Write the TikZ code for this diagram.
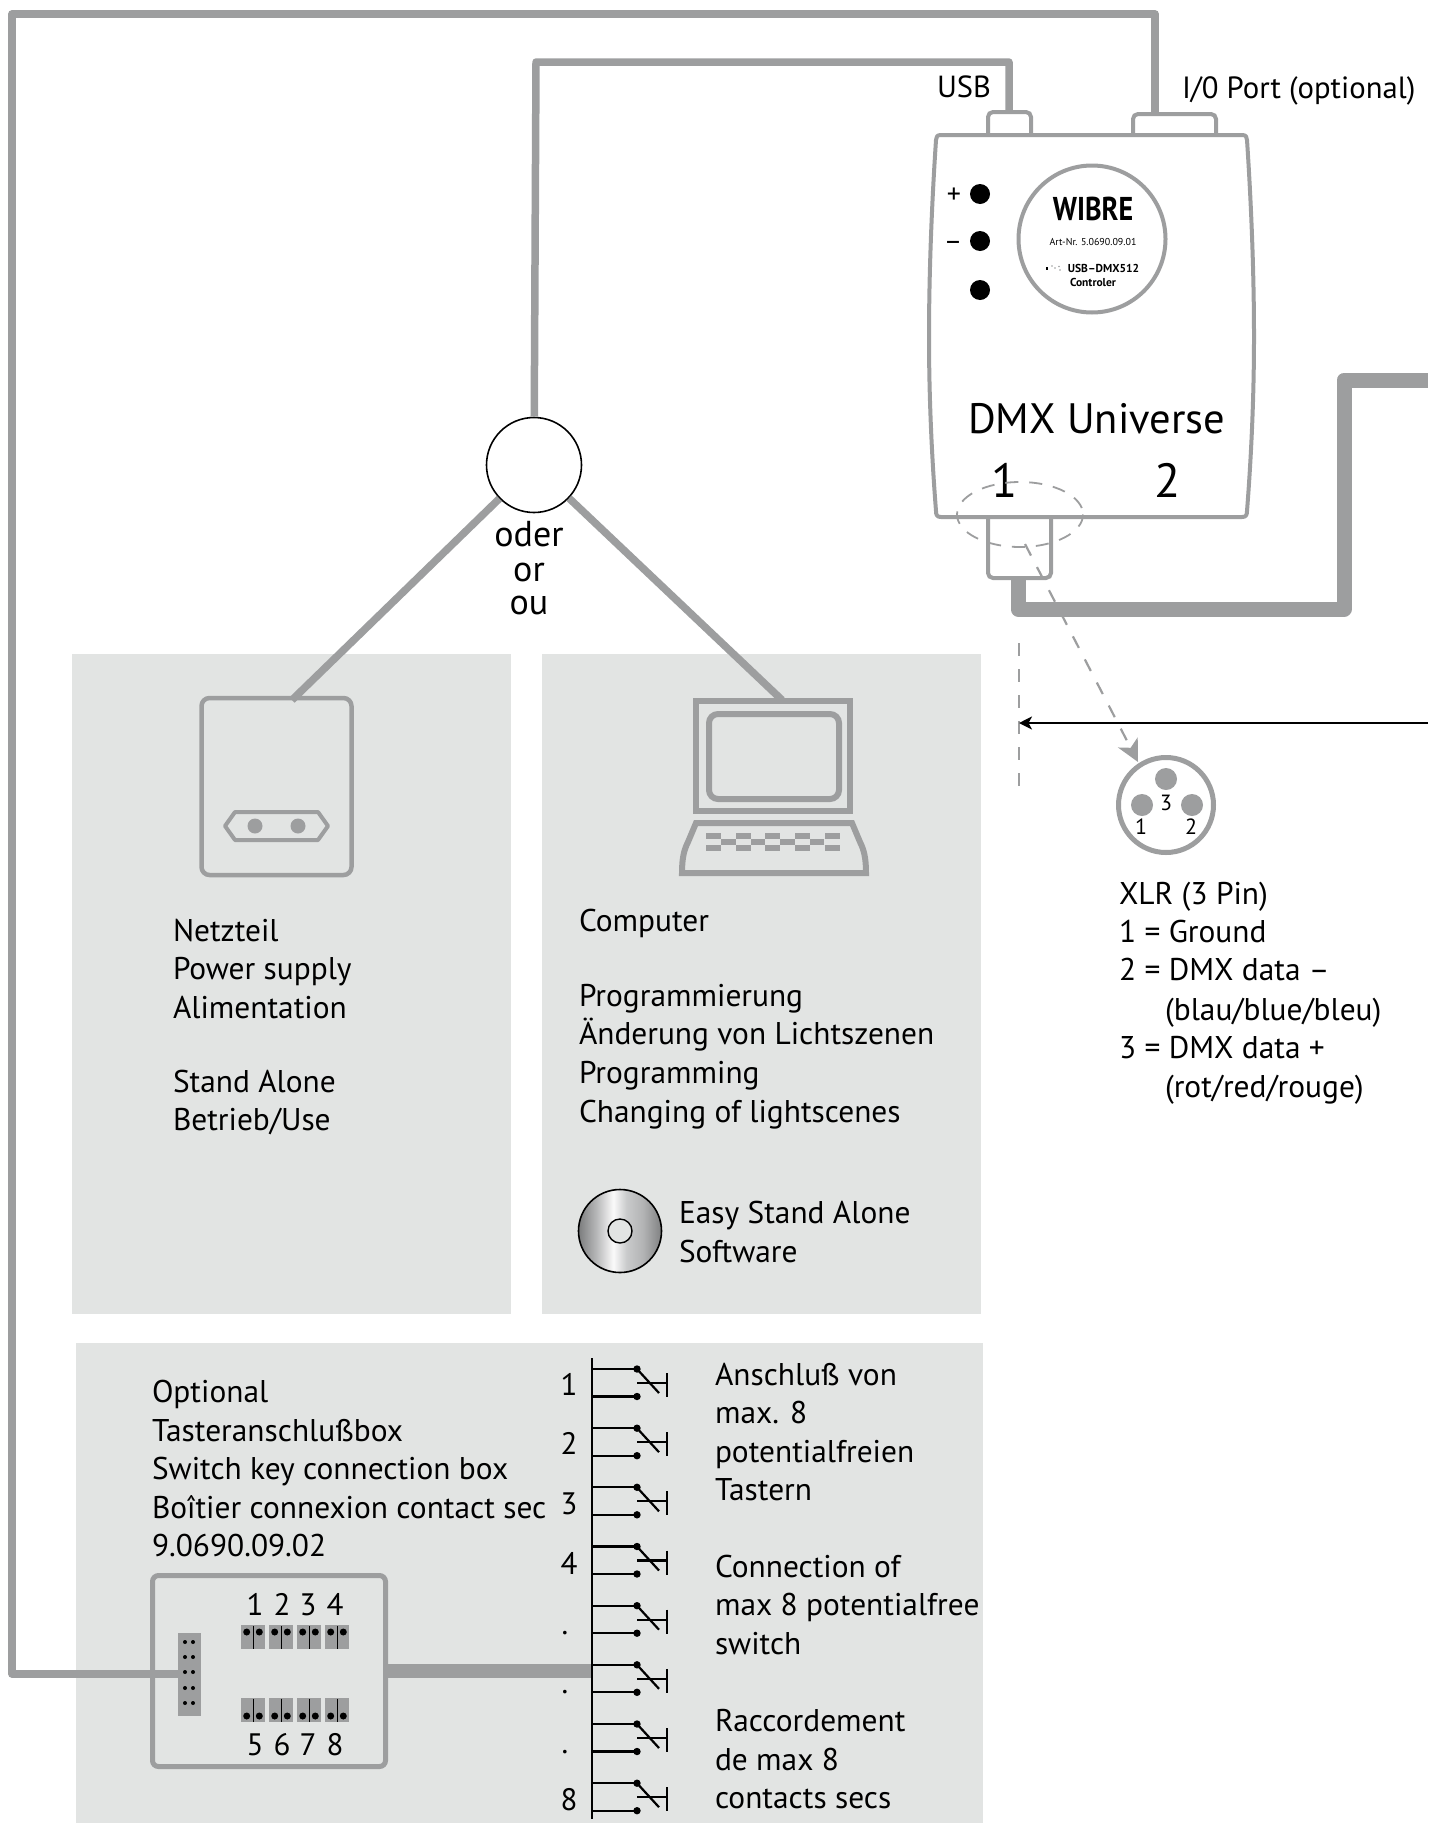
\documentclass[tikz,border=0pt]{standalone}
\usepackage{fontspec}
\setmainfont{PT Sans}
\usetikzlibrary{arrows.meta}
\definecolor{wirec}{HTML}{9D9E9F}
\definecolor{panelc}{HTML}{E2E4E3}
\definecolor{cdA}{HTML}{6E6F70}
\definecolor{cdB}{HTML}{7B7C7D}
\definecolor{cdC}{HTML}{B8B9BA}
\definecolor{cdD}{HTML}{FAFAFA}
\definecolor{cdE}{HTML}{C9CACB}
\definecolor{cdF}{HTML}{B2B3B4}
\definecolor{cdG}{HTML}{808182}
\pgfdeclarehorizontalshading{cdshade}{100bp}{color(0bp)=(cdA); color(25bp)=(cdB); color(36bp)=(cdC); color(46bp)=(cdD); color(54bp)=(cdE); color(64bp)=(cdF); color(75bp)=(cdG); color(100bp)=(cdG)}
\newcommand{\fsz}[1]{\fontsize{#1}{#1}\selectfont}
\tikzset{
  x=1pt,y=-1pt,
  panel/.style={fill=panelc,draw=none},
  wire/.style={draw=wirec,line width=7.5pt,line join=round},
  thickwire/.style={draw=wirec,line width=15pt,line join=round},
  outline/.style={draw=wirec,line width=4.5pt,line join=round},
  dashline/.style={draw=wirec,line width=2.2pt,dash pattern=on 13pt off 13pt},
  lab/.style={anchor=base west,inner sep=0pt,outer sep=0pt,font=\fsz{31.4}},
  num/.style={anchor=base,inner sep=0pt,outer sep=0pt,font=\fsz{31}},
}
\begin{document}
\begin{tikzpicture}
\useasboundingbox (0,0) rectangle (1428,1823);
% panels
\fill[panel] (72,654) rectangle (511,1314);
\fill[panel] (542,654) rectangle (981,1314);
\fill[panel] (76,1343) rectangle (983,1823);

% coordinates
\coordinate (outerA) at (1155,112);
\coordinate (outerB) at (1155,14);
\coordinate (outerC) at (12,14);
\coordinate (outerD) at (12,1674);
\coordinate (outerE) at (180,1674);
\coordinate (usbA) at (1009,110);
\coordinate (usbB) at (1009,62);
\coordinate (usbC) at (536,62);
\coordinate (psuTop) at (292,700);
\coordinate (pcTop) at (782,700);
\coordinate (dmxA) at (1018,578);
\coordinate (dmxB) at (1018,609);
\coordinate (dmxC) at (1344,609);
\coordinate (dmxD) at (1344,380);
\coordinate (dmxE) at (1428,380);
\coordinate (boxOut) at (386,1671);
\coordinate (busIn) at (592,1671);
\coordinate (arrowStart) at (1428,723);
\coordinate (arrowEnd) at (1019,723);
\coordinate (dashV1) at (1019,643);
\coordinate (dashV2) at (1019,787);
\coordinate (dashD1) at (1025,544);
\coordinate (dashD2) at (1138,762);

% hub
\node[circle,draw=black,line width=1.6pt,fill=white,minimum size=95pt,inner sep=0pt] (hub) at (534,465) {};

% wires
\draw[wire] (outerA) -- (outerB) -- (outerC) -- (outerD) -- (outerE);
\draw[wire] (usbA) -- (usbB) -- (usbC) -- (hub);
\draw[wire] (hub) -- (psuTop);
\draw[wire] (hub) -- (pcTop);
\draw[thickwire] (dmxA) -- (dmxB) -- (dmxC) -- (dmxD) -- (dmxE);
\draw[draw=wirec,line width=14pt] (boxOut) -- (busIn);

% controller
\draw[draw=wirec,line width=4pt,fill=white,rounded corners=5pt] (988,134) -- (988,112) -- (1031,112) -- (1031,134);
\draw[draw=wirec,line width=4pt,fill=white,rounded corners=5pt] (1133,134) -- (1133,114) -- (1216,114) -- (1216,134);
\draw[draw=wirec,line width=4pt,fill=white,rounded corners=5pt] (988,518) -- (988,578) -- (1051,578) -- (1051,518);
\draw[draw=wirec,line width=4pt,line join=round,fill=white]
  (941,135) -- (1242,135) .. controls (1246,135) and (1247,137) .. (1247,140)
  .. controls (1251,200) and (1254,270) .. (1254,337)
  .. controls (1254,400) and (1251,460) .. (1247,511)
  .. controls (1247,515) and (1246,517) .. (1242,517)
  -- (941,517) .. controls (937,517) and (936,515) .. (936,511)
  .. controls (932,460) and (929,400) .. (929,337)
  .. controls (929,270) and (932,200) .. (936,140)
  .. controls (936,137) and (937,135) .. (941,135) -- cycle;
\draw[draw=wirec,line width=4pt,fill=white] (1092,239) circle (73.5);
\fill[black] (980,194) circle (10);
\fill[black] (980,241) circle (10);
\fill[black] (980,290) circle (10);
\node[num,font=\fsz{28}] (plus) at (954,203) {+};
\node[num,font=\fsz{28}] (minus) at (953,250) {–};
\node[anchor=base,inner sep=0pt] (logo) at (1093,220) {\fsz{33}\bfseries\scalebox{0.85}[1]{WIBRE}};
\node[num,font=\fsz{10}] (artnr) at (1093,245.5) {Art-Nr. 5.0690.09.01};
\node[num,font=\fsz{11.5}\bfseries] (usbdmx) at (1103.5,272) {USB–DMX512};
\node[num,font=\fsz{11.5}\bfseries] (ctrl) at (1093,286) {Controler};
\fill[black] (1046,266.5) rectangle (1048,270);
\fill[wirec] (1052,266) circle (0.9) (1055,268) circle (0.9) (1059,266.5) circle (0.8) (1060,270) circle (0.8);
\node[num,font=\fsz{42.5}] (dmxlabel) at (1096.5,433) {DMX Universe};
\node[num,font=\fsz{48}] (one) at (1004.5,497) {1};
\node[num,font=\fsz{48}] (two) at (1168,497) {2};
\draw[draw=wirec,line width=1.8pt,dash pattern=on 13pt off 11pt] (1020,514.5) ellipse (63 and 32.5);
\node[lab,font=\fsz{30.5}] (usblabel) at (937,97) {USB};
\node[lab,font=\fsz{30.7}] (iolabel) at (1182,98) {I/0 Port (optional)};

% dashed lines and arrows
\draw[dashline] (dashV1) -- (dashV2);
\draw[dashline,-{Stealth[length=22pt,width=22pt,inset=6pt,wirec]}] (dashD1) -- (dashD2);
\draw[draw=black,line width=2pt,-{Stealth[length=13pt,width=13pt,inset=3.5pt,black]}] (arrowStart) -- (arrowEnd);

% XLR
\draw[draw=wirec,line width=5pt,fill=white] (1166,805) circle (47.5);
\fill[wirec] (1166,779) circle (11) (1142,805) circle (11) (1192,805) circle (11);
\node[num,font=\fsz{22}] (xlrThree) at (1166,810) {3};
\node[num,font=\fsz{22}] (xlrOne) at (1141,834) {1};
\node[num,font=\fsz{22}] (xlrTwo) at (1191,834) {2};

% XLR text
\node[lab] (x1) at (1119,904) {XLR (3 Pin)};
\node[lab] (x2) at (1119,942) {1 = Ground};
\node[lab] (x3) at (1119,980) {2 = DMX data –};
\node[lab] (x4) at (1165,1020) {(blau/blue/bleu)};
\node[lab] (x5) at (1119,1058) {3 = DMX data +};
\node[lab] (x6) at (1165,1097) {(rot/red/rouge)};

% or
\node[num,font=\fsz{36}] (oder) at (529,546) {oder};
\node[num,font=\fsz{36}] (orr) at (529,581) {or};
\node[num,font=\fsz{36}] (ou) at (529,614) {ou};

% power supply
\draw[outline,rounded corners=8pt] (201.5,698) rectangle (351.5,875);
\draw[draw=wirec,line width=4pt,line join=round] (225,826) -- (235,812) -- (318,812) -- (328,826) -- (318,840) -- (235,840) -- cycle;
\fill[wirec] (255,826) circle (7.5) (298,826) circle (7.5);
\node[lab] (n1) at (173,941) {Netzteil};
\node[lab] (n2) at (173,979) {Power supply};
\node[lab] (n3) at (173,1018) {Alimentation};
\node[lab] (n4) at (173,1092) {Stand Alone};
\node[lab] (n5) at (173,1130) {Betrieb/Use};

% computer
\draw[draw=wirec,line width=6pt] (696,701) rectangle (850,811);
\draw[draw=wirec,line width=6pt,rounded corners=9pt] (709,714) rectangle (839,799);
\draw[draw=wirec,line width=6pt,line join=miter]
  (696,823) -- (852,823) -- (860,842) .. controls (864,850) and (866,858) .. (866,873)
  -- (682,873) .. controls (682,858) and (684,850) .. (688,842) -- cycle;
\foreach \kx in {706,735.5,765,795,824.5}{
  \fill[wirec] (\kx,833.3) rectangle ++(15,5.8);
  \fill[wirec] (\kx,845.3) rectangle ++(15,5.8);
}
\foreach \kx in {721,750.5,780,809.5}{
  \fill[wirec] (\kx,839.3) rectangle ++(14.8,5.8);
}
\node[lab] (c1) at (579,931) {Computer};
\node[lab] (c2) at (579,1006) {Programmierung};
\node[lab] (c3) at (579,1044) {Änderung von Lichtszenen};
\node[lab] (c4) at (579,1083) {Programming};
\node[lab] (c5) at (579,1122) {Changing of lightscenes};
% CD
\shade[shading=cdshade] (620,1231) circle (41.5);
\draw[black,line width=1.6pt] (620,1231) circle (41.5);
\draw[black,line width=1.4pt,fill=panelc] (620,1231) circle (12);
\node[lab] (e1) at (679,1223) {Easy Stand Alone};
\node[lab] (e2) at (679,1262) {Software};

% option text
\node[lab] (o1) at (152,1402.5) {Optional};
\node[lab] (o2) at (152,1441) {Tasteranschlußbox};
\node[lab] (o3) at (152,1479) {Switch key connection box};
\node[lab] (o4) at (152,1518) {Boîtier connexion contact sec};
\node[lab] (o5) at (152,1556) {9.0690.09.02};

% box
\draw[draw=wirec,line width=5pt,rounded corners=6pt] (152.5,1575.5) rectangle (385.5,1766.5);
\fill[wirec] (178,1633) rectangle (201,1716);
\foreach \dy in {1642,1657,1672,1688,1703}{
  \fill[black] (185,\dy) circle (2) (193,\dy) circle (2);
}
\foreach \bx in {241,269,297,325}{
  \fill[wirec] (\bx,1625) rectangle ++(24,24);
  \fill[black] (\bx+5.7,1632) circle (3.5) (\bx+18.3,1632) circle (3.5);
  \draw[black,line width=1pt] (\bx+12,1626) -- (\bx+12,1649);
  \fill[wirec] (\bx,1698) rectangle ++(24,24);
  \fill[black] (\bx+5.7,1716) circle (3.5) (\bx+18.3,1716) circle (3.5);
  \draw[black,line width=1pt] (\bx+12,1698.5) -- (\bx+12,1722);
}
\node[num] (b1) at (255,1615) {1};
\node[num] (b2) at (282,1615) {2};
\node[num] (b3) at (308,1615) {3};
\node[num] (b4) at (335,1615) {4};
\node[num] (b5) at (255,1755) {5};
\node[num] (b6) at (282,1755) {6};
\node[num] (b7) at (308,1755) {7};
\node[num] (b8) at (335,1755) {8};

% bus and switches
\draw[black,line width=2.4pt] (592,1358) -- (592,1819);
\foreach \sy in {1369,1428.2,1487.3,1546.5,1605.7,1664.8,1724,1783.2}{
  \draw[black,line width=2.2pt] (592,\sy) -- (637,\sy);
  \draw[black,line width=2.2pt] (592,\sy+27.5) -- (637,\sy+27.5);
  \fill[black] (637,\sy) circle (3.7) (637,\sy+27.5) circle (3.7);
  \draw[black,line width=2.2pt] (637,\sy) -- (659,\sy+24);
  \draw[black,line width=2.2pt] (637,\sy+14) -- (667,\sy+14);
  \draw[black,line width=2.2pt] (667,\sy+4) -- (667,\sy+28);
}
\node[num] (s1) at (569,1395) {1};
\node[num] (s2) at (569,1454) {2};
\node[num] (s3) at (569,1514) {3};
\node[num] (s4) at (569,1574) {4};
\node[num] (s5) at (565,1634) {.};
\node[num] (s6) at (565,1693) {.};
\node[num] (s7) at (565,1753) {.};
\node[num] (s8) at (569,1810) {8};

% right text
\node[lab] (r1) at (715,1385) {Anschluß von};
\node[lab] (r2) at (715,1423) {max. 8};
\node[lab] (r3) at (715,1462) {potentialfreien};
\node[lab] (r4) at (715,1500) {Tastern};
\node[lab] (r5) at (715,1577) {Connection of};
\node[lab] (r6) at (715,1615) {max 8 potentialfree};
\node[lab] (r7) at (715,1654) {switch};
\node[lab] (r8) at (715,1731) {Raccordement};
\node[lab] (r9) at (715,1770) {de max 8};
\node[lab] (r10) at (715,1808) {contacts secs};
\end{tikzpicture}
\end{document}
